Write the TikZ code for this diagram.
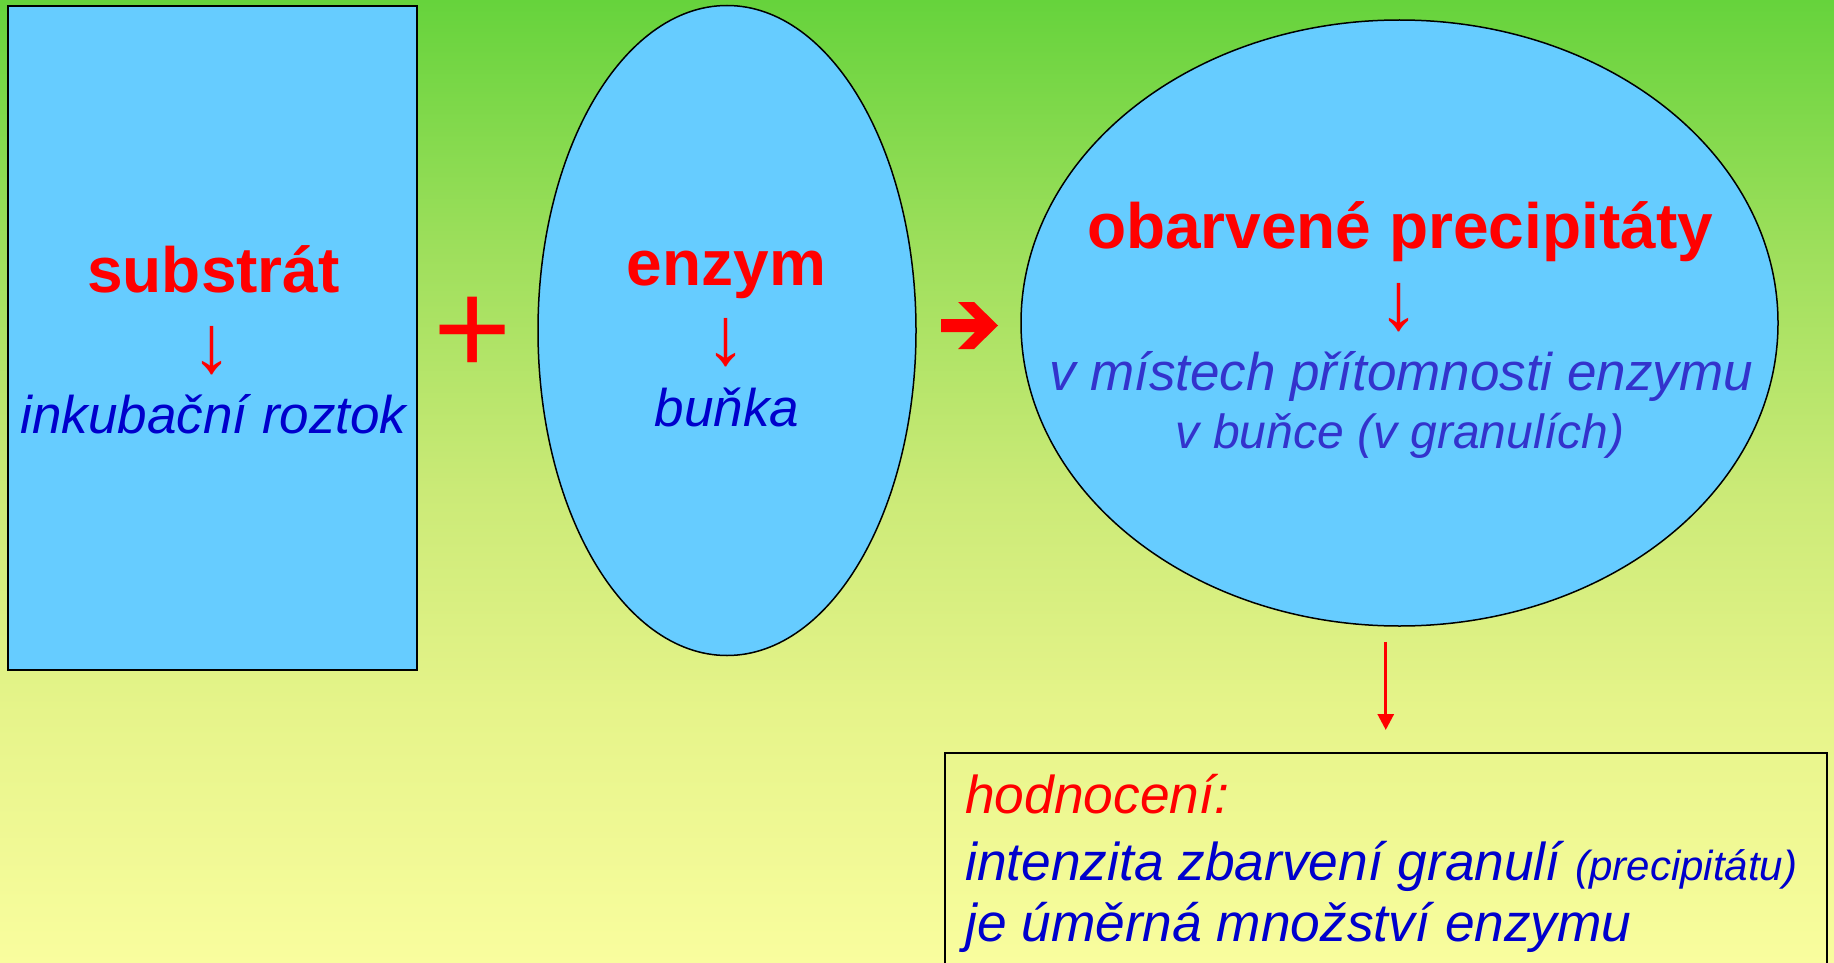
\documentclass[tikz,border=0pt]{standalone}
\usepackage{fontspec}
\setmainfont{Liberation Sans}
\usetikzlibrary{arrows.meta,shapes.geometric}
\definecolor{bgA}{HTML}{66D33C}
\definecolor{bgB}{HTML}{9EDF5C}
\definecolor{bgC}{HTML}{CBEA77}
\definecolor{bgD}{HTML}{E6F48A}
\definecolor{bgE}{HTML}{F9FD9E}
\definecolor{cellblue}{HTML}{66CCFF}
\definecolor{txtred}{HTML}{FF0000}
\definecolor{txtblue}{HTML}{0000CC}
\definecolor{txtblueB}{HTML}{3333CC}
\pgfdeclareverticalshading{bgshade}{100bp}{color(0bp)=(bgE); color(25bp)=(bgE); color(38bp)=(bgD); color(49.5bp)=(bgC); color(62bp)=(bgB); color(75bp)=(bgA); color(100bp)=(bgA)}
\begin{document}
\begin{tikzpicture}[x=1pt,y=-1pt,
  shapebox/.style={draw=black, fill=cellblue, inner sep=0pt},
  head/.style={text=txtred, font=\bfseries\fontsize{64}{70}\selectfont, inner sep=0pt, anchor=base},
  sub/.style={text=txtblue, font=\itshape\fontsize{53}{60}\selectfont, inner sep=0pt, anchor=base},
  subB/.style={text=txtblueB, font=\itshape\fontsize{53}{60}\selectfont, inner sep=0pt, anchor=base},
  darr/.style={text=txtred, font=\fontsize{82}{88}\selectfont, inner sep=0pt, anchor=north},
  evaltxt/.style={font=\itshape\fontsize{53.3}{60}\selectfont, inner sep=0pt, anchor=base west}
]
\useasboundingbox (0,0) rectangle (1834,963);
\shade[shading=bgshade] (0,0) rectangle (1834,963);

% shapes
\node[shapebox, rectangle, line width=2pt, minimum width=409pt, minimum height=664pt] (subst) at (212.5,338) {};
\node[shapebox, ellipse, line width=1.5pt, minimum width=378pt, minimum height=650pt] (cell) at (727,330.5) {};
\node[shapebox, ellipse, line width=1.5pt, minimum width=757pt, minimum height=606pt] (res) at (1399.5,323) {};
\node[draw=black, line width=1.5pt, inner sep=0pt, minimum width=882pt, minimum height=240pt, anchor=north west] (eval) at (944,752) {};

% plus
\node[text=txtred, font=\fontsize{134}{140}\selectfont, inner sep=0pt] (plus) at (473,336) {+};

% thick arrow
\fill[txtred] (941,319) -- (975,319) -- (958,302) -- (974,302) -- (998,325.5) -- (974,349) -- (958,349) -- (975,332) -- (941,332) -- cycle;

% texts in rectangle
\node[head] (t1) at (213.5,292) {substrát};
\node[darr] (d1) at (212,326) {↓};
\node[sub] (t1b) at (213.5,433) {inkubační roztok};

% texts in cell
\node[head] (t2) at (726.5,285) {enzym};
\node[darr] (d2) at (726,318) {↓};
\node[sub] (t2b) at (727,426) {buňka};

% texts in result
\node[head] (t3) at (1400,248) {obarvené precipitáty};
\node[darr] (d3) at (1399,283) {↓};
\node[subB] (t3b) at (1401,390) {v místech přítomnosti enzymu};
\node[subB, font=\itshape\fontsize{48}{54}\selectfont] (t3c) at (1400,448) {v buňce (v granulích)};

% connector
\draw[txtred, line width=3pt, -{Triangle[width=16pt,length=16pt]}, shorten <=15pt, shorten >=22pt] (res.south -| eval.north) -- (eval.north);

% evaluation texts
\node[evaltxt, text=txtred] (e1) at (965,813) {hodnocení:};
\node[evaltxt, text=txtblue] (e2) at (965,880) {intenzita zbarvení granulí {\fontsize{42}{46}\selectfont(precipitátu)}};
\node[evaltxt, text=txtblue] (e3) at (965,941) {je úměrná množství enzymu};
\end{tikzpicture}
\end{document}
